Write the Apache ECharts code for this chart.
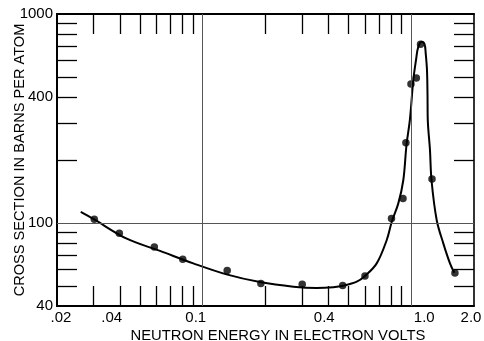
<!DOCTYPE html>
<html>
<head>
<meta charset="utf-8">
<script src="https://cdn.jsdelivr.net/npm/echarts@6/dist/echarts.min.js"></script>
<style>
  html, body { margin: 0; padding: 0; background: #fff; }
  #chart { width: 484px; height: 341px; }
</style>
</head>
<body>
<div id="chart"></div>
<script>
// Measured points: neutron energy (eV) vs. total cross section (barns per atom)
const pointEnergy = [0.0302, 0.0398, 0.0586, 0.0802, 0.131, 0.190, 0.300, 0.469, 0.600,
                     0.804, 0.913, 0.943, 0.997, 1.058, 1.108, 1.258, 1.62];
const pointSigma  = [104, 89.1, 76.6, 66.9, 59.2, 51.2, 50.9, 50.2, 55.7,
                     105, 131, 242, 462, 494, 716, 162, 57.5];

// Smooth curve drawn through the 1/v region and the resonance
const curveEnergy = [0.026, 0.0299, 0.0432, 0.0624, 0.0901, 0.130, 0.188, 0.272, 0.352, 0.423,
                     0.472, 0.548, 0.600, 0.683, 0.763, 0.806, 0.867, 0.916, 0.949, 0.986,
                     1.023, 1.054, 1.081, 1.123, 1.158, 1.173, 1.190, 1.197, 1.200, 1.230,
                     1.251, 1.325, 1.425, 1.534, 1.609];
const curveSigma  = [113, 104.4, 84.0, 73.4, 64.0, 56.7, 52.1, 49.5, 48.8, 49.2,
                     50.0, 52.3, 55.7, 64.0, 82.8, 101, 124, 160, 236, 314,
                     483, 602, 697, 737, 718, 650, 539, 409, 314, 223,
                     160, 103, 79.8, 64.0, 57.7];

// Axis labels, ticks and reference lines
const xLabelValues = [0.02, 0.04, 0.1, 0.4, 1.0, 2.0];
const xLabelText   = ['.02', '.04', '0.1', '0.4', '1.0', '2.0'];
const yLabelValues = [40, 100, 400, 1000];
const yLabelText   = ['40', '100', '400', '1000'];
const xTickValues  = [0.03, 0.04, 0.05, 0.06, 0.07, 0.08, 0.09, 0.2, 0.3, 0.4, 0.5, 0.6, 0.7, 0.8, 0.9];
const yTickValues  = [50, 60, 70, 80, 90, 200, 300, 400, 500, 600, 700, 800, 900];
const xGridValues  = [0.1, 1.0];
const yGridValues  = [100];

const xTitle = 'NEUTRON ENERGY IN ELECTRON VOLTS';
const yTitle = 'CROSS SECTION IN BARNS PER ATOM';

// ---- styling ----
const FONT = 'Liberation Sans';
const INK = '#000';
// horizontal nudges of the energy labels (left padding, right padding)
const xLabelPad = [[8, 0], [0, 16], [0, 14], [0, 8], [26, 0], [0, 6]];

function nearestIndex(values, v) {
  let best = 0, bestD = Infinity;
  values.forEach((val, i) => {
    const d = Math.abs(Math.log(val) - Math.log(v));
    if (d < bestD) { bestD = d; best = i; }
  });
  return best;
}

const xRich = {};
xLabelPad.forEach((p, i) => {
  xRich['n' + i] = { padding: [0, p[1], 0, p[0]], fontFamily: FONT, fontSize: 15, color: INK };
});

const tickStyle = { color: INK, width: 1.3 };

const chart = echarts.init(document.getElementById('chart'), null, { renderer: 'canvas' });

chart.setOption({
  animation: false,
  backgroundColor: '#fff',
  grid: { left: 57, right: 10, top: 14, bottom: 35, containLabel: false, outerBoundsMode: 'none' },
  xAxis: [
    {
      type: 'log', logBase: 10, min: 0.02, max: 2.0, position: 'bottom',
      axisLine: { show: true, lineStyle: { color: INK, width: 2 } },
      axisTick: { show: true, inside: true, length: 20, customValues: xTickValues, lineStyle: tickStyle },
      axisLabel: {
        show: true, customValues: xLabelValues, margin: 4,
        formatter: v => { const i = nearestIndex(xLabelValues, v); return '{n' + i + '|' + xLabelText[i] + '}'; },
        rich: xRich, fontFamily: FONT, fontSize: 15, color: INK
      },
      splitLine: { show: false }, minorTick: { show: false },
      name: xTitle, nameLocation: 'middle', nameGap: 22, nameMoveOverlap: false,
      nameTextStyle: { fontFamily: FONT, fontSize: 14.8, color: INK, padding: [0, 0, 0, 25] }
    },
    {
      type: 'log', logBase: 10, min: 0.02, max: 2.0, position: 'top',
      axisLine: { show: true, lineStyle: { color: INK, width: 2 } },
      axisTick: { show: true, inside: true, length: 20, customValues: xTickValues, lineStyle: tickStyle },
      axisLabel: { show: false }, splitLine: { show: false }
    }
  ],
  yAxis: [
    {
      type: 'log', logBase: 10, min: 40, max: 1000, position: 'left',
      axisLine: { show: true, lineStyle: { color: INK, width: 2 } },
      axisTick: { show: true, inside: true, length: 20, customValues: yTickValues, lineStyle: tickStyle },
      axisLabel: {
        show: true, customValues: yLabelValues, margin: 4,
        formatter: v => yLabelText[nearestIndex(yLabelValues, v)],
        fontFamily: FONT, fontSize: 15, color: INK
      },
      splitLine: { show: false }, minorTick: { show: false },
      name: yTitle, nameLocation: 'middle', nameGap: 30, nameRotate: 90, nameMoveOverlap: false,
      nameTextStyle: { fontFamily: FONT, fontSize: 14.6, color: INK }
    },
    {
      type: 'log', logBase: 10, min: 40, max: 1000, position: 'right',
      axisLine: { show: true, lineStyle: { color: INK, width: 1.6 } },
      axisTick: { show: true, inside: true, length: 20, customValues: yTickValues, lineStyle: tickStyle },
      axisLabel: { show: false }, splitLine: { show: false }
    }
  ],
  series: [
    {
      type: 'line', xAxisIndex: 0, yAxisIndex: 0,
      data: curveEnergy.map((e, i) => [e, curveSigma[i]]),
      smooth: 0.35, showSymbol: false, symbol: 'none',
      lineStyle: { color: INK, width: 2 },
      z: 3,
      markLine: {
        silent: true, symbol: 'none', label: { show: false },
        lineStyle: { color: '#555', width: 1, type: 'solid' },
        data: xGridValues.map(v => ({ xAxis: v })).concat(yGridValues.map(v => ({ yAxis: v })))
      }
    },
    {
      type: 'scatter', xAxisIndex: 0, yAxisIndex: 0,
      data: pointEnergy.map((e, i) => [e, pointSigma[i]]),
      symbol: 'circle', symbolSize: 7.5,
      itemStyle: { color: INK },
      z: 4
    }
  ]
});
</script>
</body>
</html>
